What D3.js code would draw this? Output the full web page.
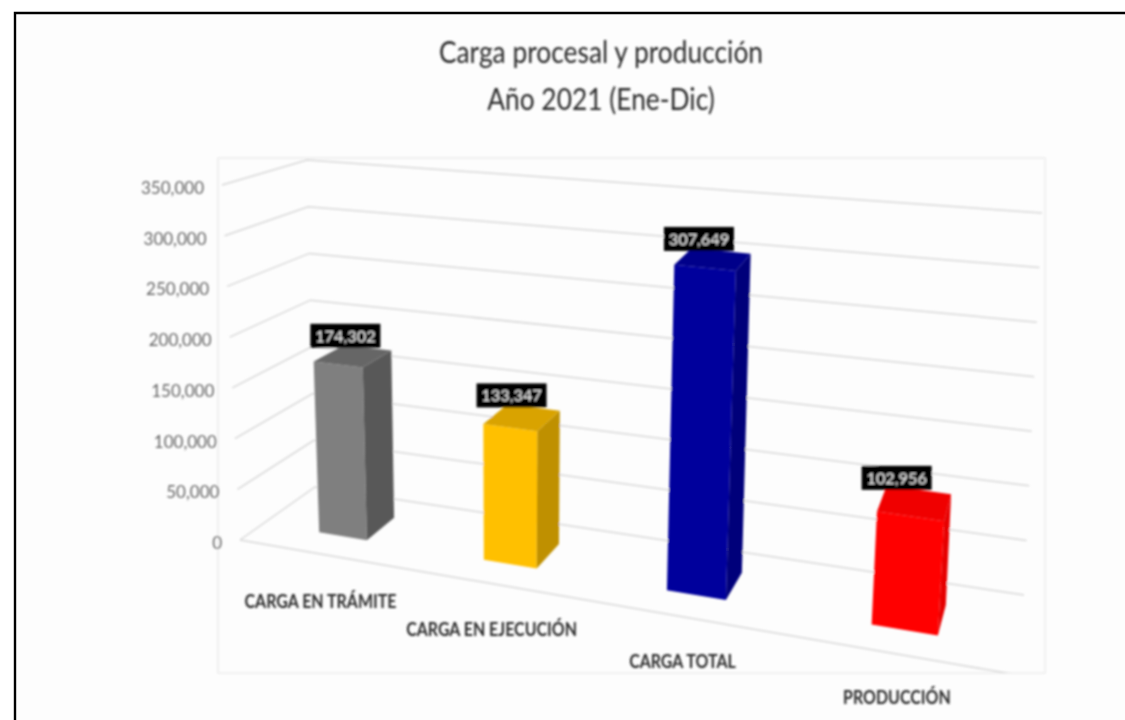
<!DOCTYPE html>
<html>
<head>
<meta charset="utf-8">
<script src="https://cdn.jsdelivr.net/npm/d3@7"></script>
<style>
	html, body { margin: 0; padding: 0; background: #fff; overflow: hidden; }
	svg { display: block; }
	text { font-family: Lato, "Open Sans", sans-serif; }
</style>
</head>
<body>
<script>
const categories = ["CARGA EN TRÁMITE", "CARGA EN EJECUCIÓN", "CARGA TOTAL", "PRODUCCIÓN"];
const values = [174302, 133347, 307649, 102956];
const labels = ["174,302", "133,347", "307,649", "102,956"];
const fronts = ["#7f7f7f", "#ffc000", "#00009c", "#ff0000"];
const sides = ["#595959", "#bf9000", "#00007a", "#e60000"];
const tops = ["#666666", "#d9a300", "#00008a", "#f00000"];
const ticks = [0, 50000, 100000, 150000, 200000, 250000, 300000, 350000];
const titleLines = ["Carga procesal y producción", "Año 2021 (Ene-Dic)"];

const width = 1125;
const height = 720;

const svg = d3.select("body").append("svg").attr("width", width).attr("height", height);
const defs = svg.append("defs");
defs.append("filter").attr("id", "soft").attr("x", "-5%").attr("y", "-5%").attr("width", "110%").attr("height", "110%")
	.append("feGaussianBlur").attr("stdDeviation", 0.8);
defs.append("clipPath").attr("id", "plotClip").append("rect")
	.attr("x", 218).attr("y", 158).attr("width", 827).attr("height", 515);

// unit square (u across, d into the chart) onto a screen quad
const homography = ([p0, p1, p2, p3]) => {
	const sx = p0[0] - p1[0] + p2[0] - p3[0];
	const sy = p0[1] - p1[1] + p2[1] - p3[1];
	const dx1 = p1[0] - p2[0], dx2 = p3[0] - p2[0];
	const dy1 = p1[1] - p2[1], dy2 = p3[1] - p2[1];
	const den = dx1 * dy2 - dx2 * dy1;
	const g = (sx * dy2 - dx2 * sy) / den;
	const h = (dx1 * sy - sx * dy1) / den;
	const a = p1[0] - p0[0] + g * p1[0], b = p3[0] - p0[0] + h * p3[0], c = p0[0];
	const e = p1[1] - p0[1] + g * p1[1], f = p3[1] - p0[1] + h * p3[1], k = p0[1];
	return (u, d) => {
		const w = g * u + h * d + 1;
		return [(a * u + b * d + c) / w, (e * u + f * d + k) / w];
	};
};

// floor corners: front-left, front-right, back-right, back-left
const floor = homography([[240, 540], [1012, 674], [1024, 595], [315, 487]]);

// how far the 350,000 plane sits from the floor, front and back, left to right
const heightFront = d3.scaleLinear().domain([0, 1]).range([355, 412]);
const heightBack = d3.scaleLinear().domain([0, 1]).range([327, 382]);
const leanFront = d3.scaleLinear().domain([0, 1]).range([-18, 28]);
const leanBack = d3.scaleLinear().domain([0, 1]).range([-8, 18]);

const valueScale = d3.scaleLinear().domain([0, 350000]).range([0, 1]);
const project = (u, d, v) => {
	const a = floor(u, d), t = valueScale(v);
	const h = heightFront(u) + (heightBack(u) - heightFront(u)) * d;
	const l = leanFront(u) + (leanBack(u) - leanFront(u)) * d;
	return [a[0] + l * t, a[1] - h * t];
};

const xBand = d3.scaleBand().domain(categories).range([-0.085, 1.09]).padding(0.7);
const depthFront = 0.3, depthBack = 0.7;
const barShrink = 0.975; // bars stand a little short of the walls' scale
const line = d3.line();

// squeeze a text to a narrower face than the installed font
const narrow = (sel, factor) => sel.attr("textLength", function () {
	return this.getComputedTextLength() * factor;
}).attr("lengthAdjust", "spacingAndGlyphs");

// background
svg.append("rect").attr("x", 15).attr("y", 13).attr("width", width).attr("height", height).attr("fill", "#fdfdfd");
svg.append("path").attr("d", `M15,${height}V13H${width}`).attr("fill", "none").attr("stroke", "#000").attr("stroke-width", 2.4);

const chart = svg.append("g").attr("filter", "url(#soft)");

chart.append("rect").attr("x", 218).attr("y", 158).attr("width", 827).attr("height", 515)
	.attr("fill", "none").attr("stroke", "#e6e6e6");

// walls
const grid = chart.append("g").attr("clip-path", "url(#plotClip)").attr("fill", "none").attr("stroke", "#d8d8d8").attr("stroke-width", 1.5);
grid.selectAll("path.grid").data(ticks).enter().append("path").attr("class", "grid")
	.attr("d", (v) => line([project(0, 0, v), project(0, 1, v), project(1, 1, v)]));
grid.append("path").attr("d", line([project(0, 0, 0), project(1, 0, 0)]));

// bars
const bars = chart.selectAll("g.bar").data(categories).enter().append("g").attr("class", "bar");
const corners = (c, i, v) => {
	const u0 = xBand(c), u1 = u0 + xBand.bandwidth();
	return {
		fl: project(u0, depthFront, v * barShrink), fr: project(u1, depthFront, v * barShrink),
		br: project(u1, depthBack, v * barShrink), bl: project(u0, depthBack, v * barShrink),
	};
};
bars.append("path").attr("fill", (c, i) => fronts[i]).attr("d", (c, i) => {
	const b = corners(c, i, 0), t = corners(c, i, values[i]);
	return line([b.fl, b.fr, t.fr, t.fl]) + "Z";
});
bars.append("path").attr("fill", (c, i) => sides[i]).attr("d", (c, i) => {
	const b = corners(c, i, 0), t = corners(c, i, values[i]);
	return line([b.fr, b.br, t.br, t.fr]) + "Z";
});
bars.append("path").attr("fill", (c, i) => tops[i]).attr("d", (c, i) => {
	const t = corners(c, i, values[i]);
	return line([t.fl, t.fr, t.br, t.bl]) + "Z";
});

// data labels
const topCenter = (c, i) => project(xBand(c) + xBand.bandwidth() / 2, depthBack, values[i] * barShrink);
const labelGroup = chart.selectAll("g.lab").data(categories).enter().append("g").attr("class", "lab")
	.attr("transform", (c, i) => {
		const p = topCenter(c, i);
		return `translate(${p[0] - 22},${p[1] - 12})`;
	});
labelGroup.append("rect").attr("x", -35).attr("y", -12).attr("width", 70).attr("height", 24).attr("fill", "#000");
labelGroup.append("text").attr("text-anchor", "middle").attr("y", 6).attr("fill", "#eee")
	.attr("font-size", 16)
	.text((c, i) => labels[i])
	.call(narrow, 1.02);

// value axis along the front left edge
const fmt = d3.format(",");
chart.selectAll("text.tick").data(ticks).enter().append("text").attr("class", "tick")
	.attr("x", (v) => project(0, 0, v)[0] - 18)
	.attr("y", (v) => project(0, 0, v)[1] + 9)
	.attr("text-anchor", "end").attr("fill", "#666").attr("font-size", 17)
	.text((v) => fmt(v));

// category labels under the front edge
const catOffset = d3.scaleLinear().domain([0, 1]).range([55, 49]);
chart.selectAll("text.cat").data(categories).enter().append("text").attr("class", "cat")
	.attr("x", (c) => project(xBand(c) + xBand.bandwidth() / 2, 0, 0)[0])
	.attr("y", (c) => {
		const u = xBand(c) + xBand.bandwidth() / 2;
		return project(u, 0, 0)[1] + catOffset(u);
	})
	.attr("text-anchor", "middle").attr("fill", "#2b2b2b").attr("font-size", 19).attr("font-weight", "bold")
	.text((c) => c)
	.call(narrow, 0.84);

// title
chart.selectAll("text.title").data(titleLines).enter().append("text").attr("class", "title")
	.attr("x", 601)
	.attr("y", (t, i) => (i ? 110 : 63))
	.attr("text-anchor", "middle").attr("fill", "#2b2b2b").attr("font-size", 31)
	.text((t) => t)
	.call(narrow, 0.85);
</script>
</body>
</html>
